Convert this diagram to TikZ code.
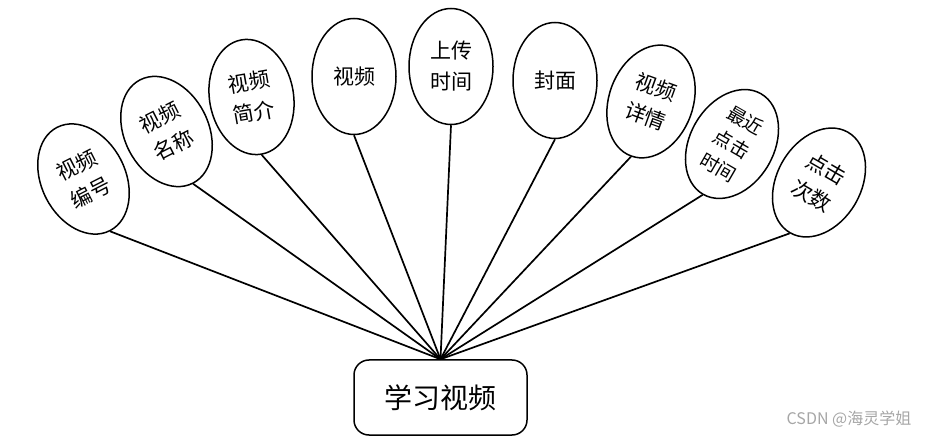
\documentclass[tikz,border=0pt]{standalone}
\usepackage{fontspec}
\newfontfamily\cjk{Noto Sans CJK SC}
\usetikzlibrary{shapes.geometric}
\begin{document}
\begin{tikzpicture}[x=1pt,y=-1pt,
  attr/.style={draw,ellipse,line width=1.5pt,minimum width=84pt,minimum height=116pt,
    inner sep=0pt,align=center,font=\cjk\fontsize{21}{31}\selectfont},
  entity/.style={draw,rounded corners=15pt,line width=1.5pt,minimum width=173pt,
    minimum height=75pt,font=\cjk\fontsize{28}{32}\selectfont},
  link/.style={line width=1.7pt}]
  \useasboundingbox (0,0) rectangle (932,438);
  % entity
  \node[entity] (video) at (440.5,397.5) {学习视频};
  % attributes
  \node[attr,rotate=27] (num) at (83.5,179) {视频\\编号};
  \node[attr,rotate=27] (name) at (166.5,131.5) {视频\\名称};
  \node[attr,rotate=10] (intro) at (251.5,97) {视频\\简介};
  \node[attr] (file) at (354,76.5) {视频};
  \node[attr] (upload) at (451,66.5) {上传\\时间};
  \node[attr] (cover) at (555,80.5) {封面};
  \node[attr,rotate=-20] (detail) at (651,101.5) {视频\\详情};
  \node[attr,rotate=-30,font=\cjk\fontsize{19}{27}\selectfont] (last) at (732,144) {最近\\点击\\时间};
  \node[attr,rotate=-30] (clicks) at (819,182.5) {点击\\次数};
  % links
  \draw[link] (video.north) -- (num.south);
  \draw[link] (video.north) -- (name.south);
  \draw[link] (video.north) -- (intro.south);
  \draw[link] (video.north) -- (file.south);
  \draw[link] (video.north) -- (upload.south);
  \draw[link] (video.north) -- (cover.south);
  \draw[link] (video.north) -- (detail.south);
  \draw[link] (video.north) -- (last.south);
  \draw[link] (video.north) -- (clicks.south);
  % watermark
  \node[text=gray!70,font=\cjk\fontsize{16}{18}\selectfont] (mark) at (849,419) {CSDN @海灵学姐};
\end{tikzpicture}
\end{document}
